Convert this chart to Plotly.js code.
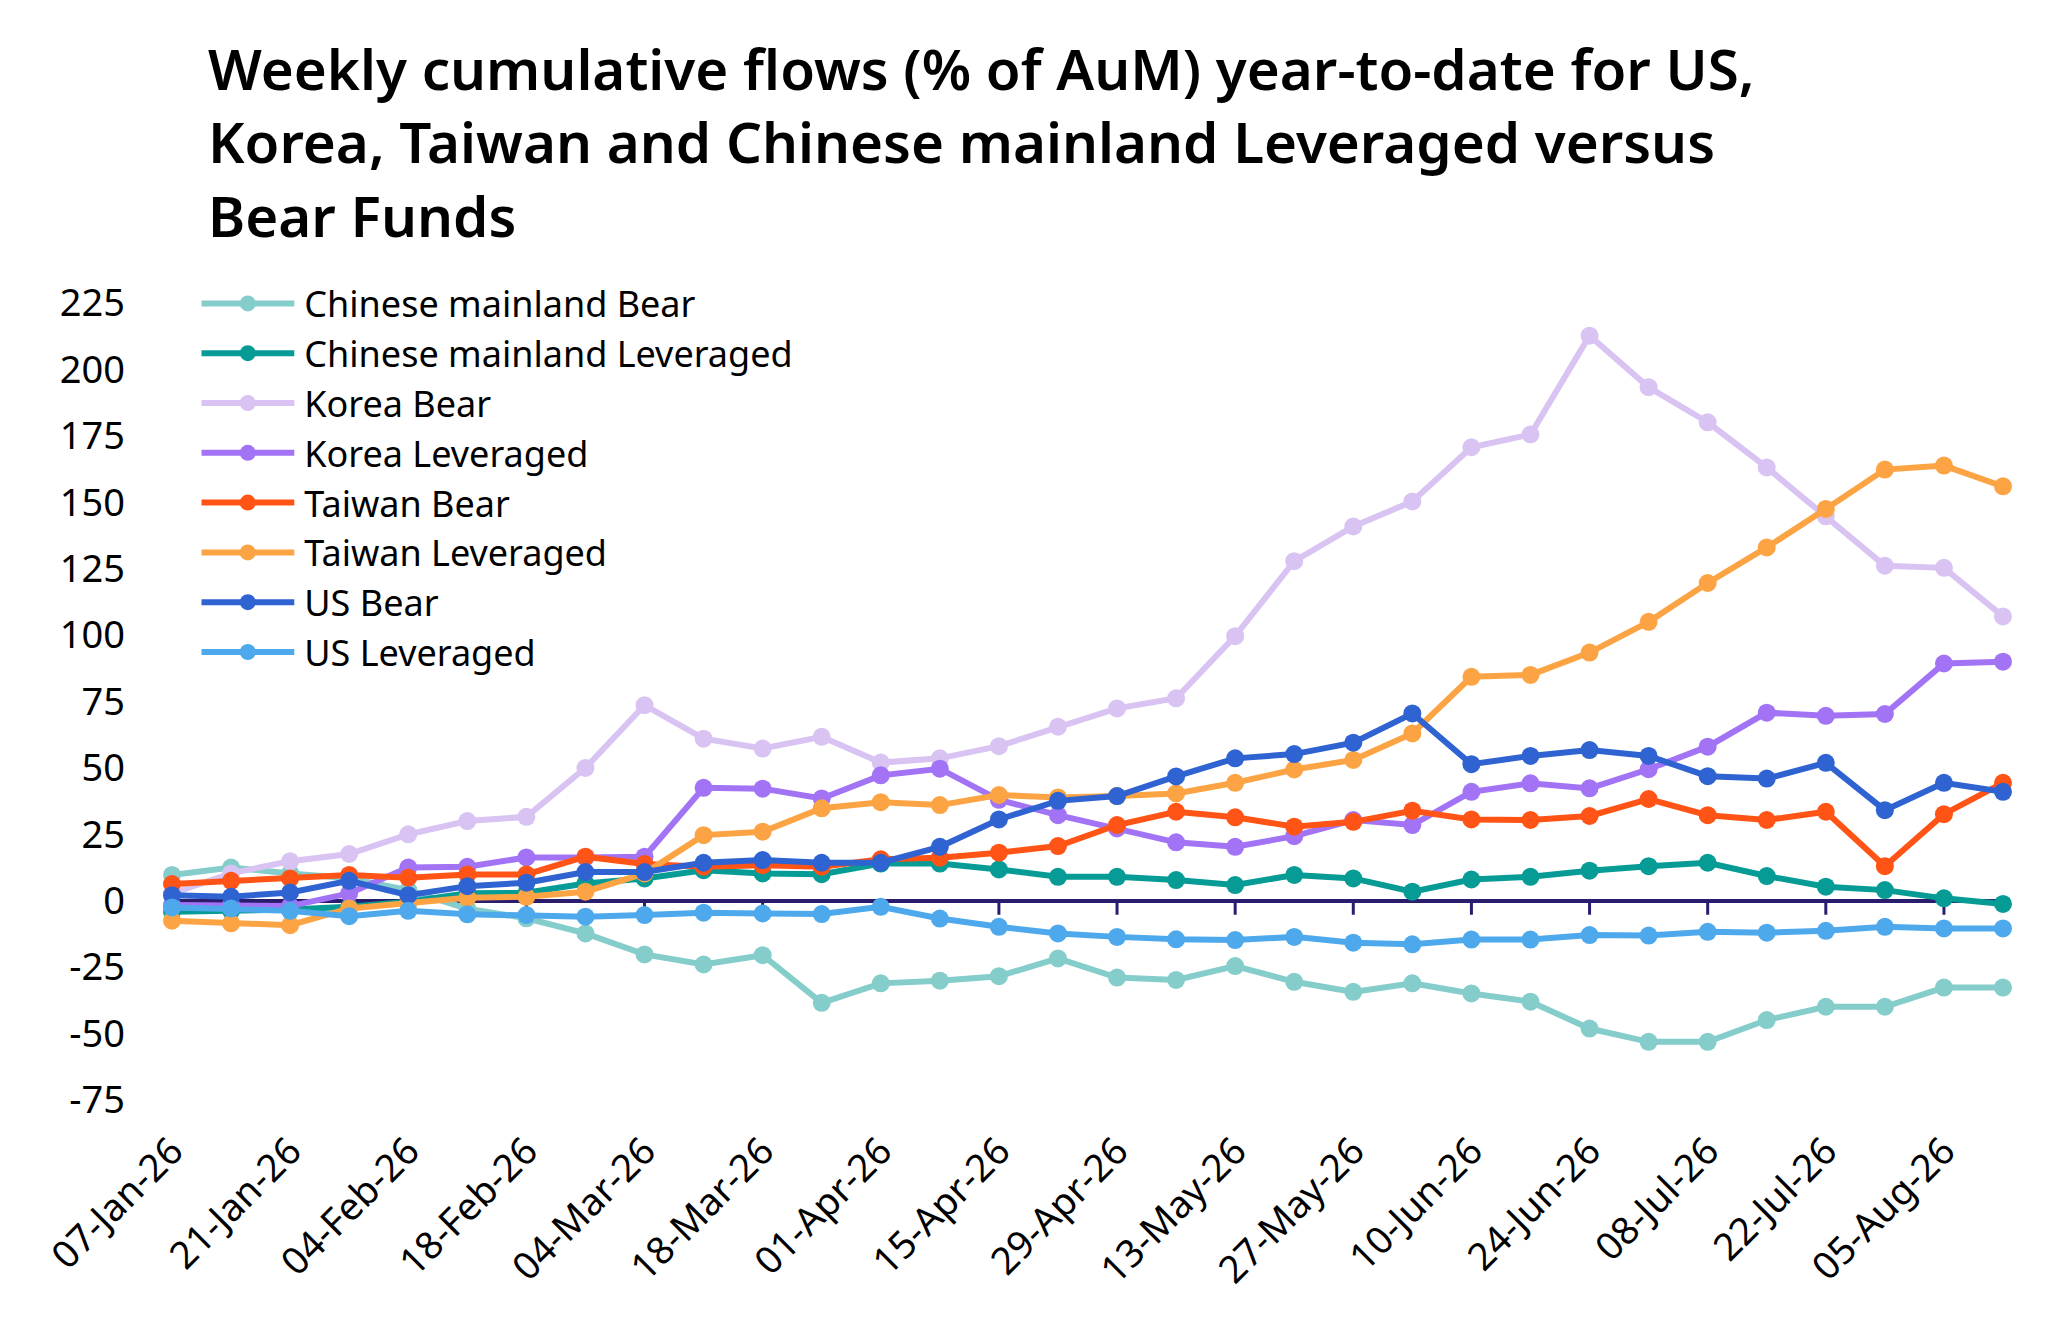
<!DOCTYPE html>
<html>
<head>
<meta charset="utf-8">
<script src="https://cdn.plot.ly/plotly-3.0.1.min.js"></script>
<style>
  html, body { margin: 0; padding: 0; background: #fff; }
  #chart { width: 2068px; height: 1320px; }
</style>
</head>
<body>
<div id="chart"></div>
<script>
// weekly dates, year-to-date
var weeks = ['07-Jan-26', '14-Jan-26', '21-Jan-26', '28-Jan-26', '04-Feb-26', '11-Feb-26', '18-Feb-26', '25-Feb-26',
    '04-Mar-26', '11-Mar-26', '18-Mar-26', '25-Mar-26', '01-Apr-26', '08-Apr-26', '15-Apr-26', '22-Apr-26',
    '29-Apr-26', '06-May-26', '13-May-26', '20-May-26', '27-May-26', '03-Jun-26', '10-Jun-26', '17-Jun-26',
    '24-Jun-26', '01-Jul-26', '08-Jul-26', '15-Jul-26', '22-Jul-26', '29-Jul-26', '05-Aug-26', '12-Aug-26'];

var chinaBear = [9.7, 12.5, 10.3, 8.5, 4, -3, -6.6, -12.3, -20.2, -24, -20.5, -38.4, -31.1, -30.1, -28.4, -21.7,
    -28.9, -29.8, -24.6, -30.5, -34.3, -31.1, -34.9, -38, -48.1, -53.1, -53.1, -44.9, -39.9, -39.9, -32.7, -32.7];
var chinaLev = [-4.1, -3.8, -3.3, -2.3, -0.4, 2.8, 3, 6.5, 8.4, 11.5, 10.3, 10, 14, 14, 11.8, 9,
    9, 7.8, 5.9, 9.7, 8.4, 3.4, 8, 9, 11.3, 13, 14.3, 9.3, 5.3, 4, 0.9, -1.2];
var koreaBear = [2.8, 10.3, 14.9, 17.6, 25, 30, 31.6, 50, 73.6, 61, 57.3, 61.7, 52, 53.6, 58.2, 65.5,
    72.4, 76.2, 99.6, 127.8, 140.9, 150.3, 170.7, 175.5, 212.7, 193.3, 180.1, 163.1, 144.7, 126.1, 125.3, 107];
var koreaLev = [-1.6, -1.6, -2, 2.8, 12.5, 12.8, 16.3, 16.3, 16.6, 42.5, 42.2, 38.5, 47.2, 49.7, 38, 32.2,
    27.2, 22, 20.3, 24.3, 30.4, 28.5, 41, 44.2, 42.3, 49.5, 58, 70.8, 69.6, 70.3, 89.3, 90];
var taiwanBear = [6.3, 7.5, 8.4, 9.7, 8.7, 9.9, 9.9, 16.6, 13.8, 12.8, 13.4, 12.8, 15.6, 16.2, 18.1, 20.6,
    28.5, 33.5, 31.4, 27.9, 29.7, 33.9, 30.6, 30.4, 31.9, 38.3, 32.2, 30.4, 33.5, 13, 32.6, 44.4];
var taiwanLev = [-7.5, -8.5, -9.2, -2.9, -1, 1.1, 1.5, 3.4, 10.3, 24.7, 26, 34.8, 37.1, 36, 39.8, 38.9,
    39.4, 40.4, 44.4, 49.4, 53, 63, 84.3, 85, 93.4, 105, 119.6, 133, 147.5, 162.3, 163.8, 156];
var usBear = [2.1, 1.5, 3.1, 7.5, 2.1, 5.5, 6.8, 10.8, 10.8, 14.3, 15.3, 14.3, 14.3, 20.3, 30.6, 37.6,
    39.4, 46.8, 53.6, 55.2, 59.5, 70.5, 51.4, 54.5, 56.7, 54.5, 46.9, 46, 51.9, 34.1, 44.4, 41];
var usLev = [-2.5, -2.9, -3.8, -5.8, -3.8, -5.1, -5.4, -6, -5.4, -4.5, -4.8, -5, -2.3, -6.7, -9.8, -12.3,
    -13.6, -14.5, -14.8, -13.6, -15.8, -16.4, -14.6, -14.6, -12.9, -13.1, -11.7, -12, -11.3, -9.8, -10.4, -10.4];

var seriesNames = ['Chinese mainland Bear', 'Chinese mainland Leveraged', 'Korea Bear', 'Korea Leveraged',
    'Taiwan Bear', 'Taiwan Leveraged', 'US Bear', 'US Leveraged'];
var seriesValues = [chinaBear, chinaLev, koreaBear, koreaLev, taiwanBear, taiwanLev, usBear, usLev];
var seriesColors = ['#84cdcb', '#079b96', '#d8c3f2', '#a274f5', '#ff5416', '#fca444', '#2e63d1', '#4ea9ec'];

var yTickVals = [-75, -50, -25, 0, 25, 50, 75, 100, 125, 150, 175, 200, 225];
var yTickText = ['-75', '-50', '-25', '0', '25', '50', '75', '100', '125', '150', '175', '200', '225'];

var axisNavy = '#2b1d6e';
var font = 'Noto Sans, Open Sans, sans-serif';
var legendSymbolWidth = 93;

var data = seriesNames.map(function(name, i) {
    return {
        type: 'scatter',
        mode: 'lines+markers',
        name: name,
        x: weeks,
        y: seriesValues[i],
        line: { color: seriesColors[i], width: 6 },
        marker: { color: seriesColors[i], size: 18 },
        cliponaxis: false
    };
});

// little ticks hanging off the zero line, every other week
var zeroTicks = weeks.filter(function(w, i) { return i % 2 === 0; }).map(function(w) {
    return {
        type: 'line', layer: 'below',
        xref: 'x', x0: w, x1: w,
        yref: 'y', ysizemode: 'pixel', yanchor: 0, y0: 0, y1: -14,
        line: { color: axisNavy, width: 3 }
    };
});

var layout = {
    width: 2068,
    height: 1320,
    paper_bgcolor: '#fff',
    plot_bgcolor: '#fff',
    margin: { l: 172, r: 65, t: 303, b: 220 },
    font: { family: font, size: 38, color: '#000' },
    title: {
        text: 'Weekly cumulative flows (% of AuM) year-to-date for US,<br>Korea, Taiwan and Chinese mainland Leveraged versus<br>Bear Funds',
        font: { family: font, size: 56.5, color: '#000', weight: 600 },
        xref: 'container', x: 208 / 2068, xanchor: 'left',
        yref: 'container', y: 1 - 90 / 1320, yanchor: 'top'
    },
    showlegend: true,
    legend: {
        x: 0.016, xanchor: 'left',
        y: 1.037, yanchor: 'top',
        font: { family: font, size: 36, color: '#000' },
        itemwidth: legendSymbolWidth,
        bgcolor: 'rgba(0,0,0,0)',
        borderwidth: 0,
        traceorder: 'normal'
    },
    xaxis: {
        type: 'category',
        range: [0, weeks.length - 1],
        tickmode: 'linear', tick0: 0, dtick: 2,
        tickangle: -45,
        ticks: '',
        ticklabelstandoff: 20,
        showgrid: false, zeroline: false, showline: false,
        tickfont: { family: font, size: 38, color: '#000' }
    },
    yaxis: {
        range: [-75, 225],
        tickmode: 'array',
        tickvals: yTickVals,
        ticktext: yTickText,
        ticks: '',
        ticklabelstandoff: 46,
        showgrid: false,
        zeroline: true, zerolinecolor: axisNavy, zerolinewidth: 3.5,
        showline: false,
        tickfont: { family: font, size: 38, color: '#000' }
    },
    shapes: zeroTicks
};

document.addEventListener('DOMContentLoaded', function() {
    var gd = document.getElementById('chart');
    Plotly.newPlot(gd, data, layout, { displayModeBar: false, responsive: false }).then(function() {
        // stretch the legend swatches to the long line used in the original
        gd.querySelectorAll('.legend .traces').forEach(function(t) {
            var line = t.querySelector('.legendlines path');
            if (line) line.setAttribute('d', 'M0,0h' + legendSymbolWidth);
            t.querySelectorAll('.legendpoints path').forEach(function(p) {
                p.setAttribute('transform', 'translate(' + (legendSymbolWidth / 2) + ',0)');
            });
        });
    });
});
</script>
</body>
</html>
